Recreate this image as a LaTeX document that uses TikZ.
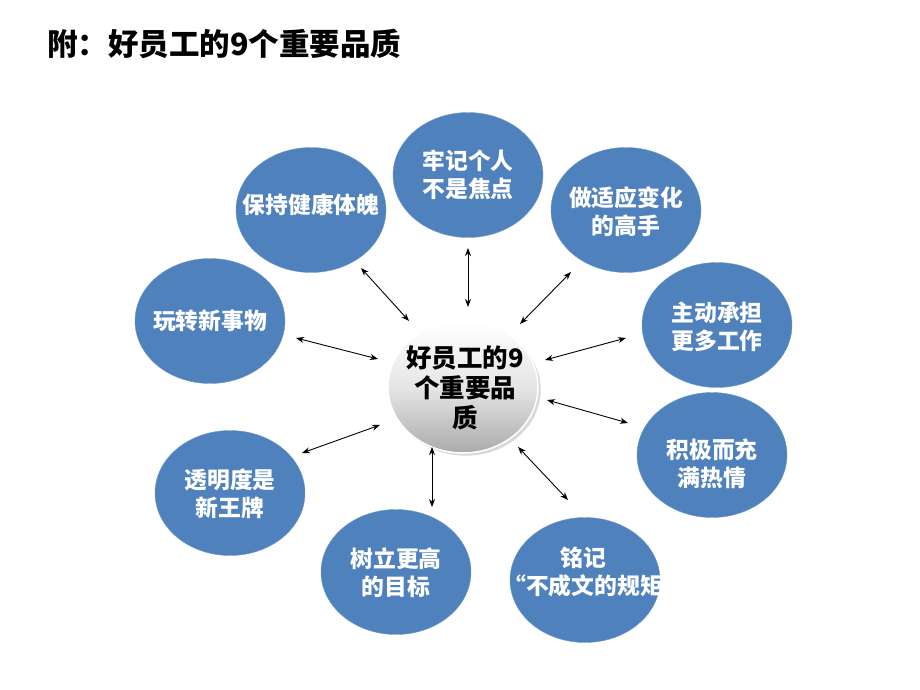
\documentclass[tikz,border=0pt]{standalone}
\usepackage{fontspec}
\setmainfont{Noto Sans CJK SC}
\usetikzlibrary{shapes.geometric,arrows.meta,shadows}
\definecolor{bubbleblue}{HTML}{4F81BD}

\begin{document}
\begin{tikzpicture}[x=1pt, y=-1pt,
    bubble/.style={ellipse, fill=bubbleblue, draw=bubbleblue!80!white, minimum width=150pt, minimum height=125pt, inner sep=0pt},
    bubbletext/.style={align=center, text=white, inner sep=0pt, font=\fontsize{22.8}{28}\selectfont\bfseries},
    core/.style={ellipse, draw=white, line width=1.5pt, top color=white, bottom color=black!33, middle color=black!10, minimum width=150pt, minimum height=132pt, inner sep=0pt, drop shadow={opacity=0.3}},
    link/.style={{Stealth[length=8pt,width=6pt]}-{Stealth[length=8pt,width=6pt]}, line width=0.9pt}
]
\useasboundingbox (0,0) rectangle (920,690);

% Title
\node[anchor=west, inner sep=0pt, font=\fontsize{30.5}{32}\selectfont\bfseries] (title) at (47,44) {附：好员工的9个重要品质};

% Centre
\node[core] (core) at (463,387) {};
\node[align=center, inner sep=0pt, font=\fontsize{25.5}{30}\selectfont\bfseries] (coretext) at (465,388) {好员工的9\\个重要品\\质};

% Qualities
\node[bubble] (b1) at (468,175) {};
\node[bubble] (b2) at (311,210) {};
\node[bubble] (b3) at (626,210) {};
\node[bubble] (b4) at (210,321) {};
\node[bubble] (b5) at (717,325) {};
\node[bubble] (b6) at (712,455) {};
\node[bubble] (b7) at (230,493) {};
\node[bubble] (b8) at (396,572) {};
\node[bubble] (b9) at (585,580) {};

\node[bubbletext] (t1) at (468,175) {牢记个人\\不是焦点};
\node[bubbletext] (t2) at (311,205) {保持健康体魄};
\node[bubbletext] (t3) at (626,212) {做适应变化\\的高手};
\node[bubbletext] (t4) at (210,321) {玩转新事物};
\node[bubbletext] (t5) at (717,327) {主动承担\\更多工作};
\node[bubbletext] (t6) at (712,464) {积极而充\\满热情};
\node[bubbletext] (t7) at (230,494) {透明度是\\新王牌};
\node[bubbletext] (t8) at (396,573) {树立更高\\的目标};
\node[bubbletext] (t9) at (583,572) {铭记\\“不成文的规矩};

% Arrow ends
\coordinate (l1a) at (468,248); \coordinate (l1b) at (468,307);
\coordinate (l2a) at (361,268); \coordinate (l2b) at (409,321);
\coordinate (l3a) at (296,338); \coordinate (l3b) at (378,359);
\coordinate (l4a) at (571,272); \coordinate (l4b) at (520,324);
\coordinate (l5a) at (626,338); \coordinate (l5b) at (545,360);
\coordinate (l6a) at (547,400); \coordinate (l6b) at (628,423);
\coordinate (l7a) at (518,447); \coordinate (l7b) at (568,500);
\coordinate (l8a) at (432,447); \coordinate (l8b) at (432,507);
\coordinate (l9a) at (380,425); \coordinate (l9b) at (302,453);

% Arrows
\draw[link] (l1a) -- (l1b);
\draw[link] (l2a) -- (l2b);
\draw[link] (l3a) -- (l3b);
\draw[link] (l4a) -- (l4b);
\draw[link] (l5a) -- (l5b);
\draw[link] (l6a) -- (l6b);
\draw[link] (l7a) -- (l7b);
\draw[link] (l8a) -- (l8b);
\draw[link] (l9a) -- (l9b);
\end{tikzpicture}
\end{document}
